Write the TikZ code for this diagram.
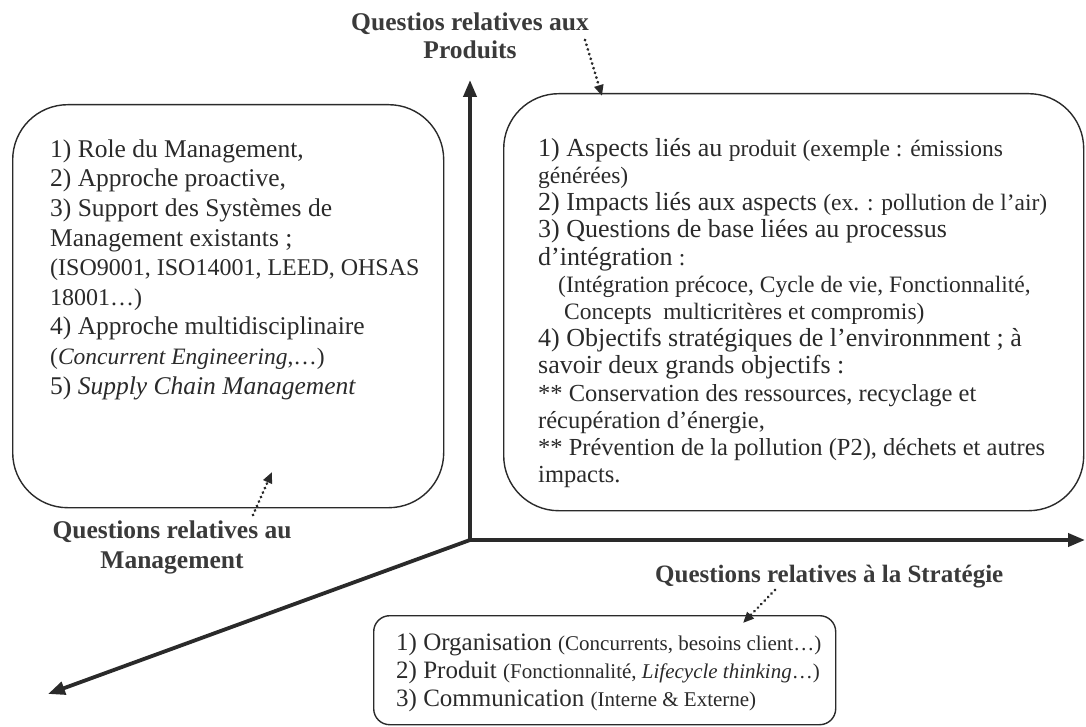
\documentclass[tikz,border=0pt]{standalone}
\usepackage{fontspec}
\setmainfont{Liberation Serif}
\usetikzlibrary{arrows.meta}
\definecolor{ink}{HTML}{2A2A2A}
\definecolor{labelgray}{HTML}{3A3A3A}
% type sizes used inside the panels
\newcommand\txtS{\fontsize{23.5}{27.2}\selectfont}
\newcommand\txtM{\fontsize{24.5}{27.2}\selectfont}
\newcommand\txtL{\fontsize{24}{29.6}\selectfont}
\newcommand\txtI{\fontsize{23.5}{29.6}\selectfont}
\newcommand\txtB{\fontsize{21}{28}\selectfont}
\begin{document}
\begin{tikzpicture}[x=1pt,y=-1pt,
  axis/.style={line width=3.8pt, draw=ink, line cap=butt,
    -{Triangle[length=17pt,width=13pt]}},
  pointer/.style={line width=3pt, draw=ink, dash pattern=on 0.1pt off 4.8pt,
    line cap=round, -{Triangle[length=11pt,width=9pt]}},
  panel/.style={draw=ink, line width=1.4pt, rectangle, anchor=north west,
    inner sep=0pt},
  body/.style={anchor=north west, inner sep=0pt, align=left, text=ink},
  caption/.style={text=labelgray, align=center, inner sep=0pt}
]
\useasboundingbox[fill=white] (0,0) rectangle (1086,727);

% three axes from a common origin
\coordinate (O) at (470,540);
\coordinate (ytip) at (470,80);
\coordinate (xtip) at (1085,540);
\coordinate (ztip) at (48,694);
\draw[axis] (O) -- (ytip);
\draw[axis] (O) -- (xtip);
\draw[axis] (O) -- (ztip);

% panels
\node[panel, rounded corners=55pt, minimum width=431pt, minimum height=403pt]
  (mgmt) at (12,104) {};
\node[panel, rounded corners=55pt, minimum width=580pt, minimum height=417pt]
  (prod) at (503,93) {};
\node[panel, rounded corners=16pt, minimum width=462pt, minimum height=109pt]
  (strat) at (373,615) {};

% management panel text
\node[body, font={\fontsize{25.5}{29.6}\selectfont\lineskiplimit=-100pt}]
  (mgmttxt) at (50,135) {\rule{0pt}{22pt}1) Role du Management,\\
2) Approche proactive,\\
3) Support des Systèmes de\\
Management existants ;\\
{\txtL (ISO9001, ISO14001, LEED, OHSAS}\\
{\txtL 18001…)}\\
4) Approche multidisciplinaire\\
{\txtI (\textit{Concurrent Engineering},…)}\\
5) \textit{Supply Chain Management}};

% product panel text
\node[body, font={\fontsize{26}{27.2}\selectfont\lineskiplimit=-100pt}]
  (prodtxt) at (538,134) {\rule{0pt}{22pt}1) Aspects liés au {\txtS produit (exemple : émissions}\\
{\txtS générées)}\\
2) Impacts liés aux aspects {\txtS (ex. : pollution de l’air)}\\
3) Questions de base liées au processus\\
d’intégration {\txtS :}\\
\hspace*{20pt}{\txtS (Intégration précoce, Cycle de vie, Fonctionnalité,}\\
\hspace*{26pt}{\txtS Concepts\ \ multicritères et compromis)}\\
4) Objectifs stratégiques de l’environnment ; à\\
savoir deux grands objectifs :\\
{\txtM ** Conservation des ressources, recyclage et}\\
{\txtM récupération d’énergie,}\\
{\txtM ** Prévention de la pollution (P2), déchets et autres}\\
{\txtM impacts.}};

% strategy panel text
\node[body, font={\fontsize{25}{28}\selectfont\lineskiplimit=-100pt}]
  (strattxt) at (396,630) {\rule{0pt}{20pt}1) Organisation {\txtB (Concurrents, besoins client…)}\\
2) Produit {\txtB (Fonctionnalité, \textit{Lifecycle thinking}…)}\\
3) Communication {\txtB (Interne \& Externe)}};

% axis captions
\node[caption, font={\fontsize{25.5}{28}\selectfont\bfseries}]
  (lblP) at (470,36) {Questios relatives aux\\Produits};
\node[caption, font={\fontsize{25.5}{30}\selectfont\bfseries}]
  (lblM) at (172,547) {Questions relatives au\\Management};
\node[caption, anchor=west, font={\fontsize{25}{30}\selectfont\bfseries}]
  (lblS) at (655,577) {Questions relatives à la Stratégie};

% dotted pointers from captions to panels
\coordinate (pP1) at (585,40);
\coordinate (pP2) at (602,96);
\coordinate (pM1) at (253,515);
\coordinate (pM2) at (272,472);
\coordinate (pS1) at (775,590);
\coordinate (pS2) at (743,623);
\draw[pointer] (pP1) -- (pP2);
\draw[pointer] (pM1) -- (pM2);
\draw[pointer] (pS1) -- (pS2);
\end{tikzpicture}
\end{document}
